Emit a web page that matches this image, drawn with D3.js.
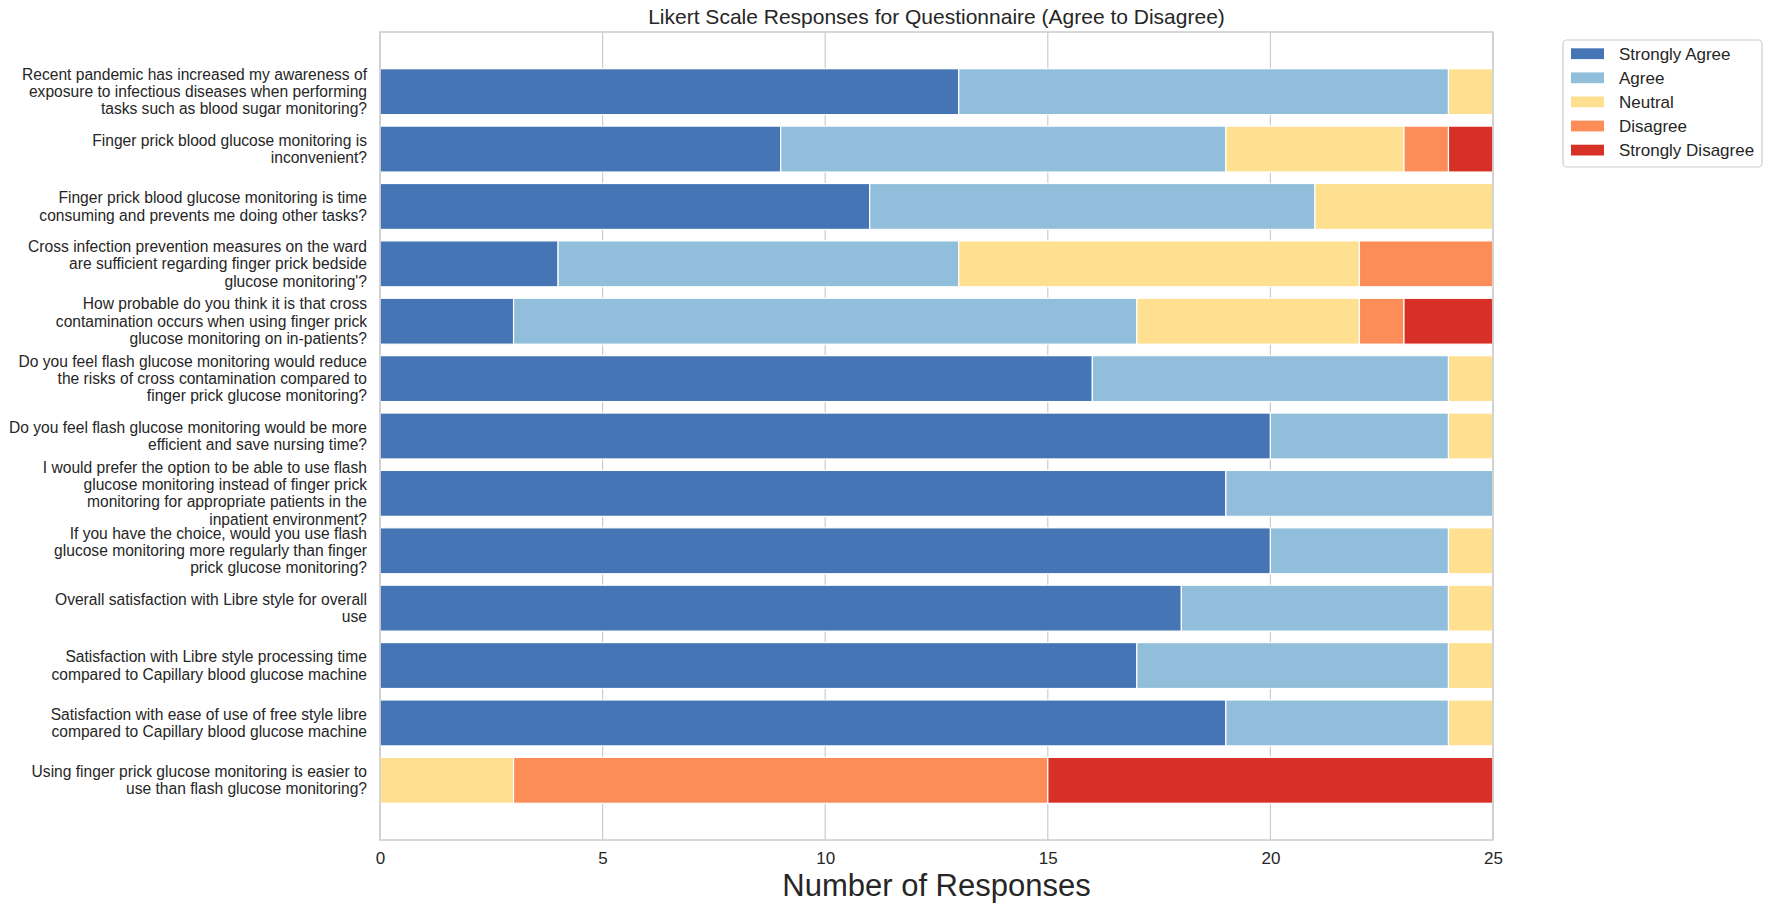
<!DOCTYPE html>
<html>
<head>
<meta charset="utf-8">
<script src="https://cdn.jsdelivr.net/npm/d3@7"></script>
<style>
  html, body { margin: 0; padding: 0; background: #fff; }
  svg { display: block; font-family: "Liberation Sans", Arial, sans-serif; }
</style>
</head>
<body>
<svg id="chart" width="1772" height="911"></svg>
<script>
// ---- data ----
const questions = [
  ["Recent pandemic has increased my awareness of", "exposure to infectious diseases when performing", "tasks such as blood sugar monitoring?"],
  ["Finger prick blood glucose monitoring is", "inconvenient?"],
  ["Finger prick blood glucose monitoring is time", "consuming and prevents me doing other tasks?"],
  ["Cross infection prevention measures on the ward", "are sufficient regarding finger prick bedside", "glucose monitoring'?"],
  ["How probable do you think it is that cross", "contamination occurs when using finger prick", "glucose monitoring on in-patients?"],
  ["Do you feel flash glucose monitoring would reduce", "the risks of cross contamination compared to", "finger prick glucose monitoring?"],
  ["Do you feel flash glucose monitoring would be more", "efficient and save nursing time?"],
  ["I would prefer the option to be able to use flash", "glucose monitoring instead of finger prick", "monitoring for appropriate patients in the", "inpatient environment?"],
  ["If you have the choice, would you use flash", "glucose monitoring more regularly than finger", "prick glucose monitoring?"],
  ["Overall satisfaction with Libre style for overall", "use"],
  ["Satisfaction with Libre style processing time", "compared to Capillary blood glucose machine"],
  ["Satisfaction with ease of use of free style libre", "compared to Capillary blood glucose machine"],
  ["Using finger prick glucose monitoring is easier to", "use than flash glucose monitoring?"]
];
const responseLevels = ["Strongly Agree", "Agree", "Neutral", "Disagree", "Strongly Disagree"];
const stronglyAgree    = [13, 9, 11, 4, 3, 16, 20, 19, 20, 18, 17, 19, 0];
const agree            = [11, 10, 10, 9, 14, 8, 4, 6, 4, 6, 7, 5, 0];
const neutral          = [1, 4, 4, 9, 5, 1, 1, 0, 1, 1, 1, 1, 3];
const disagree         = [0, 1, 0, 3, 1, 0, 0, 0, 0, 0, 0, 0, 12];
const stronglyDisagree = [0, 1, 0, 0, 2, 0, 0, 0, 0, 0, 0, 0, 10];
const xTicks = [0, 5, 10, 15, 20, 25];
const colors = ["#4575b4", "#91bfdb", "#fee090", "#fc8d59", "#d73027"];
const titleText = "Likert Scale Responses for Questionnaire (Agree to Disagree)";
const xLabel = "Number of Responses";

(function () {
// ---- build table ----
const series = [stronglyAgree, agree, neutral, disagree, stronglyDisagree];
const rows = questions.map((q, i) => {
  const r = { id: i, lines: q };
  responseLevels.forEach((k, j) => r[k] = series[j][i]);
  return r;
});

const svg = d3.select("#chart");
const pL = 380, pR = 1493, pT = 32, pB = 840;

const x = d3.scaleLinear().domain([0, 25]).range([pL, pR]);
const stepEst = (pB - pT) / 14.08;
const y = d3.scaleBand()
  .domain(rows.map(d => d.id))
  .range([pT + 0.54 * stepEst, pB - 0.54 * stepEst])
  .paddingInner(0.2).paddingOuter(0.1);

const textColor = "#262626";
const gridColor = "#cccccc";

// gridlines
svg.append("g").selectAll("line").data(xTicks).join("line")
  .attr("x1", d => x(d)).attr("x2", d => x(d))
  .attr("y1", pT).attr("y2", pB)
  .attr("stroke", gridColor).attr("stroke-width", 1.2);

// stacked bars
const stack = d3.stack().keys(responseLevels);
const stacked = stack(rows);
const color = d3.scaleOrdinal().domain(responseLevels).range(colors);

svg.append("g").selectAll("g").data(stacked).join("g")
  .attr("fill", d => color(d.key))
  .selectAll("rect").data(d => d.filter(s => s[1] - s[0] > 0)).join("rect")
  .attr("x", d => x(d[0]))
  .attr("width", d => x(d[1]) - x(d[0]))
  .attr("y", d => y(d.data.id))
  .attr("height", y.bandwidth())
  .attr("stroke", "#ffffff").attr("stroke-width", 1.2);

// frame
svg.append("rect")
  .attr("x", pL).attr("y", pT)
  .attr("width", pR - pL).attr("height", pB - pT)
  .attr("fill", "none").attr("stroke", gridColor).attr("stroke-width", 1.5);

// x axis tick labels
const xAxis = d3.axisBottom(x).tickValues(xTicks).tickSize(0).tickPadding(12);
const gx = svg.append("g").attr("transform", `translate(0,${pB})`).call(xAxis);
gx.select(".domain").remove();
gx.selectAll("text").attr("font-size", 17).attr("fill", textColor)
  .attr("font-family", "Liberation Sans, Arial, sans-serif");

// y labels (multi-line, right aligned)
const lineH = 17.2;
const yl = svg.append("g").selectAll("text").data(rows).join("text")
  .attr("text-anchor", "end")
  .attr("font-size", 15.6)
  .attr("fill", textColor);
yl.each(function(d) {
  const n = d.lines.length;
  const t = d3.select(this);
  d.lines.forEach((ln, k) => {
    t.append("tspan")
      .attr("x", pL - 13)
      .attr("y", y(d.id) + y.bandwidth() / 2 + (k - (n - 1) / 2) * lineH)
      .attr("dy", "0.35em")
      .text(ln);
  });
});

// title
svg.append("text")
  .attr("x", (pL + pR) / 2).attr("y", 24)
  .attr("text-anchor", "middle")
  .attr("font-size", 21).attr("fill", textColor)
  .text(titleText);

// x label
svg.append("text")
  .attr("x", (pL + pR) / 2).attr("y", 896)
  .attr("text-anchor", "middle")
  .attr("font-size", 31).attr("fill", textColor)
  .text(xLabel);

// legend
const lg = svg.append("g");
lg.append("rect")
  .attr("x", 1563).attr("y", 40).attr("width", 199).attr("height", 127)
  .attr("rx", 4).attr("fill", "#fff").attr("stroke", gridColor).attr("stroke-width", 1.2);
const items = lg.selectAll("g.item").data(responseLevels).join("g")
  .attr("class", "item")
  .attr("transform", (d, i) => `translate(0,${53.7 + i * 24.1})`);
items.append("rect")
  .attr("x", 1571).attr("y", -5.4).attr("width", 33).attr("height", 10.8)
  .attr("fill", d => color(d));
items.append("text")
  .attr("x", 1619).attr("y", 0).attr("dy", "0.35em")
  .attr("font-size", 17).attr("fill", textColor)
  .text(d => d);
})();
</script>
</body>
</html>
